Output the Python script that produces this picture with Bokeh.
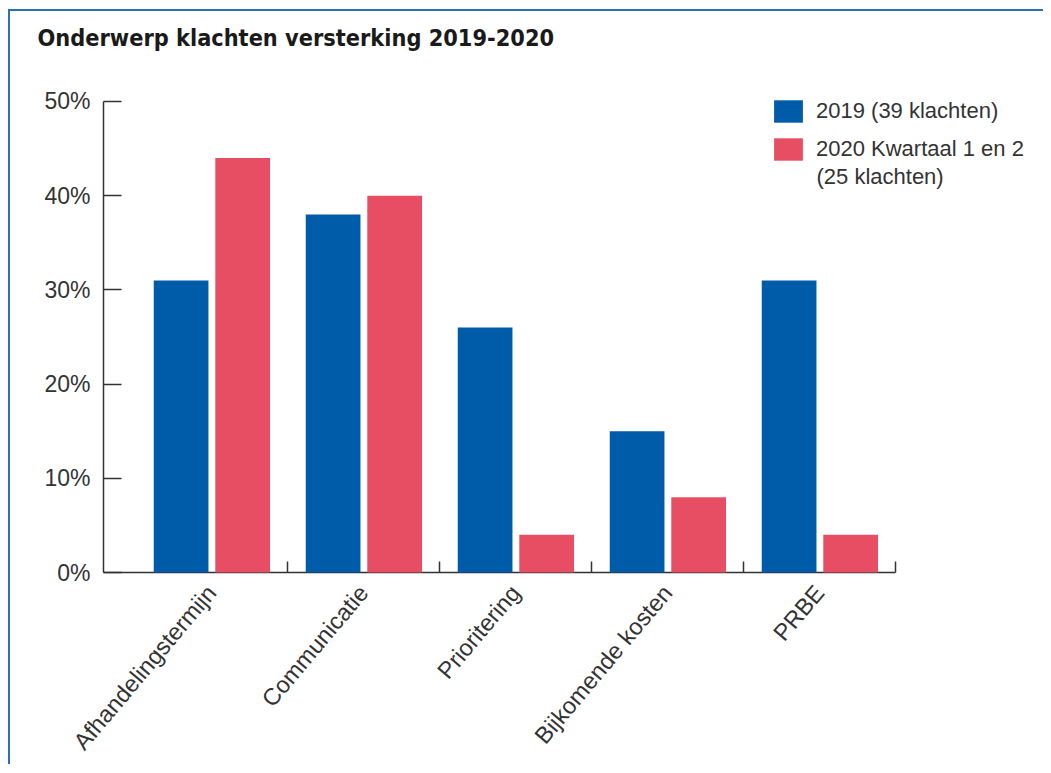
from bokeh.plotting import figure
from bokeh.models import (Range1d, FixedTicker, PrintfTickFormatter, ColumnDataSource,
                          Legend, LegendItem, CustomJSTickFormatter, Label, Title)
from bokeh.transform import dodge
from bokeh.embed import file_html
from bokeh.resources import INLINE

# ---- data ----
categories = ["Afhandelingstermijn", "Communicatie", "Prioritering", "Bijkomende kosten", "PRBE"]
values_2019 = [31, 38, 26, 15, 31]
values_2020 = [44, 40, 4, 8, 4]
label_2019 = "2019 (39 klachten)"
label_2020 = "2020 Kwartaal 1 en 2"
label_2020_line2 = "(25 klachten)"
y_ticks = [0, 10, 20, 30, 40, 50]
title_text = "Onderwerp klachten versterking 2019-2020"

BLUE = "#005ca8"
RED = "#e84e63"
TXT = "#333333"
FONT = "Liberation Sans"

W, H = 1035, 755
LEFT, TOP, BOTTOM = 93, 86, 193
PX_PER_CAT = 152.0
PX_PER_PCT = 9.44
x_start = -32.0 / PX_PER_CAT
x_end = x_start + (W - LEFT) / PX_PER_CAT
y_end = 50 + 4.0 / PX_PER_PCT
FRAME_H = H - TOP - BOTTOM

centers = [i + 0.5 for i in range(len(categories))]
bounds_ticks = [i + 1 for i in range(len(categories))]

src = ColumnDataSource(dict(x=centers, v2019=values_2019, v2020=values_2020, cat=categories))

p = figure(width=W, height=H, output_backend="svg", toolbar_location=None,
           x_range=Range1d(x_start, x_end), y_range=Range1d(0, y_end),
           min_border_left=LEFT, min_border_top=TOP, min_border_bottom=BOTTOM,
           min_border_right=0, background_fill_color="white", border_fill_color="white",
           outline_line_color=None)
p.styles = {"border-top": "2px solid #2a72b5", "border-left": "2px solid #2a72b5",
            "margin-left": "8px", "margin-top": "9px"}

# spacer between title and plot area, then the title itself (stacked outward)
p.add_layout(Title(text=" ", text_font_size="1px", standoff=44), "above")
p.add_layout(Title(text=title_text, text_font="DejaVu Sans Condensed",
                   text_font_style="bold", text_font_size="23.3px",
                   text_color="#1a1a1a", offset=-66, standoff=0,
                   vertical_align="bottom"), "above")

r1 = p.vbar(x=dodge("x", -0.2, range=p.x_range), top="v2019", width=0.36, bottom=0,
            source=src, fill_color=BLUE, line_color=None)
r2 = p.vbar(x=dodge("x", 0.205, range=p.x_range), top="v2020", width=0.36, bottom=0,
            source=src, fill_color=RED, line_color=None)
r1.level = "overlay"
r2.level = "overlay"

p.xgrid.visible = False
p.ygrid.visible = False

# y axis
ya = p.yaxis[0]
ya.ticker = FixedTicker(ticks=y_ticks)
ya.formatter = PrintfTickFormatter(format="%d%%")
ya.bounds = (0, 50)
ya.major_tick_in = 18
ya.major_tick_out = 0
ya.minor_tick_line_color = None
ya.axis_line_width = 1.5
ya.axis_line_color = TXT
ya.major_tick_line_width = 1.5
ya.major_tick_line_color = TXT
ya.major_label_text_font = FONT
ya.major_label_text_font_size = "23px"
ya.major_label_text_color = TXT
ya.major_label_standoff = 13

# x axis
xa = p.xaxis[0]
xa.ticker = FixedTicker(ticks=centers, minor_ticks=bounds_ticks)
xa.formatter = CustomJSTickFormatter(args=dict(cats=categories),
                                     code="return cats[Math.floor(tick)];")
xa.bounds = (x_start, len(categories))
xa.major_tick_line_color = None
xa.minor_tick_in = 11
xa.minor_tick_out = 0
xa.minor_tick_line_width = 1.5
xa.minor_tick_line_color = TXT
xa.axis_line_width = 1.5
xa.axis_line_color = TXT
xa.major_label_orientation = 0.87
xa.major_label_text_font = FONT
xa.major_label_text_font_size = "23.5px"
xa.major_label_text_color = TXT
xa.major_label_standoff = 10

LEG_H = 28 + 10 + 28
legend = Legend(items=[LegendItem(label=label_2019, renderers=[r1]),
                       LegendItem(label=label_2020, renderers=[r2])],
                location=(667, FRAME_H - 1 - LEG_H), glyph_width=36, glyph_height=28,
                label_standoff=10, spacing=10, padding=0, margin=0,
                border_line_color=None, background_fill_alpha=0,
                label_text_font=FONT, label_text_font_size="22px",
                label_text_color=TXT)
p.add_layout(legend, "center")

# second line of the 2020 legend label, just below the first
p.add_layout(Label(x=667 + 36 + 10, y=FRAME_H - 1 - LEG_H - 13, x_units="screen", y_units="screen",
                   text=label_2020_line2, text_font=FONT, text_font_size="22px",
                   text_color=TXT, text_baseline="middle", text_align="left"))

open("out.html", "w").write(file_html(p, INLINE))
